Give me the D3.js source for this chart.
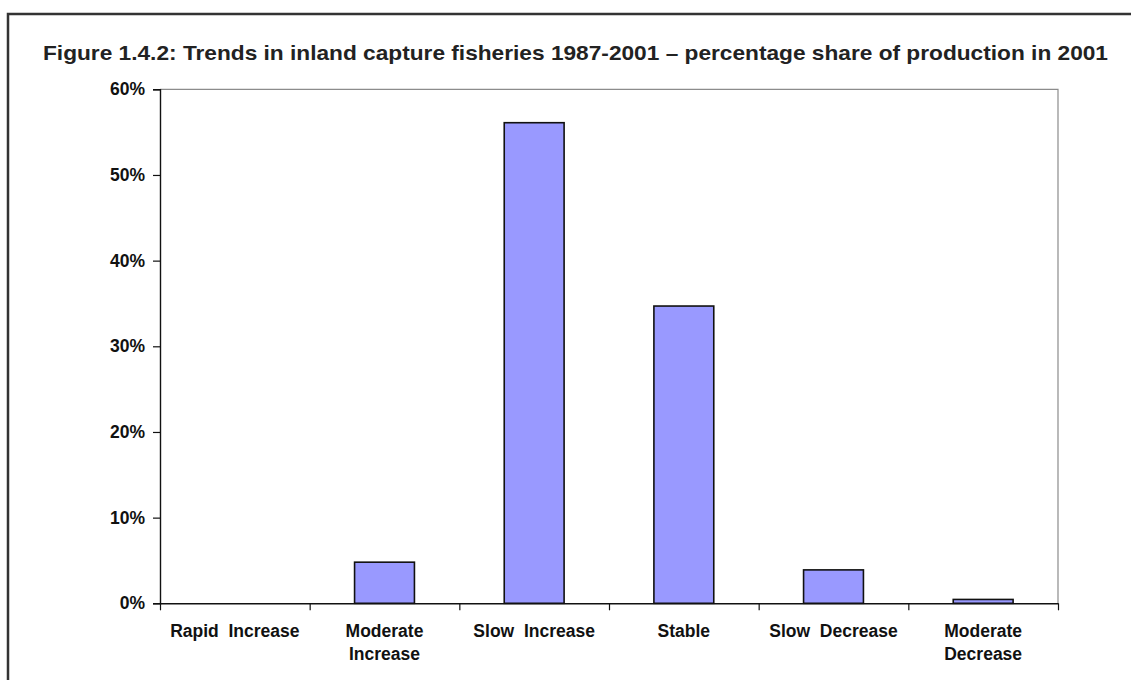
<!DOCTYPE html>
<html>
<head>
<meta charset="utf-8">
<script src="https://cdn.jsdelivr.net/npm/d3@7"></script>
<style>
  html, body { margin: 0; padding: 0; background: #fff; }
  svg { display: block; font-family: "Liberation Sans", Arial, Helvetica, sans-serif; }
</style>
</head>
<body>
<svg id="chart" width="1131" height="680"></svg>
<script>
// Share of 2001 inland capture production by 1987-2001 trend class (%)
const categories = [
  ["Rapid  Increase"],
  ["Moderate", "Increase"],
  ["Slow  Increase"],
  ["Stable"],
  ["Slow  Decrease"],
  ["Moderate", "Decrease"]
];
const shares = [0, 4.8, 56.1, 34.7, 3.9, 0.45];
const yTicks = [0, 10, 20, 30, 40, 50, 60];
const titleText = "Figure 1.4.2: Trends in inland capture fisheries 1987-2001 \u2013 percentage share of production in 2001";

const svg = d3.select("#chart");

// outer frame
svg.append("path")
  .attr("d", "M8,690 L8,14 L1140,14")
  .attr("fill", "none")
  .attr("stroke", "#333")
  .attr("stroke-width", 2.5);

svg.append("text")
  .attr("x", 43)
  .attr("y", 59.5)
  .attr("font-size", 20.5)
  .attr("font-weight", "bold")
  .attr("fill", "#222")
  .attr("textLength", 1065)
  .attr("lengthAdjust", "spacingAndGlyphs")
  .text(titleText);

const plot = { left: 160, right: 1058, top: 89.3, bottom: 603.3 };

const x = d3.scaleBand()
  .domain(d3.range(categories.length))
  .range([plot.left, plot.right])
  .paddingInner(0.6)
  .paddingOuter(0.3);

const y = d3.scaleLinear()
  .domain([0, 60])
  .range([plot.bottom, plot.top]);

// plot area frame (top and right)
svg.append("path")
  .attr("d", `M${plot.left},${plot.top} L${plot.right},${plot.top} L${plot.right},${plot.bottom}`)
  .attr("fill", "none")
  .attr("stroke", "#8c8c8c")
  .attr("stroke-width", 1.2);

// bars
svg.append("g")
  .selectAll("rect")
  .data(shares)
  .join("rect")
  .attr("x", (d, i) => x(i))
  .attr("width", x.bandwidth())
  .attr("y", d => y(d))
  .attr("height", d => plot.bottom - y(d))
  .attr("fill", "#9999ff")
  .attr("stroke", "#111")
  .attr("stroke-width", d => d > 0 ? 1.6 : 0);

// y axis
const yAxis = d3.axisLeft(y)
  .tickValues(yTicks)
  .tickFormat(d => d + "%")
  .tickSize(7)
  .tickPadding(8);

const gy = svg.append("g")
  .attr("transform", `translate(${plot.left},0)`)
  .call(yAxis);
gy.select(".domain").attr("stroke", "#111").attr("stroke-width", 1.4);
gy.selectAll(".tick line").attr("stroke", "#111").attr("stroke-width", 1.2);
gy.selectAll(".tick text")
  .attr("font-size", 17.5)
  .attr("font-weight", "bold")
  .attr("fill", "#111")
  .attr("font-family", "'Liberation Sans', Arial, sans-serif");

// x axis: category separators drawn as ticks at band edges
const xEdge = d3.scaleLinear()
  .domain([0, categories.length])
  .range([plot.left, plot.right]);

const gx = svg.append("g")
  .attr("transform", `translate(0,${plot.bottom})`)
  .call(d3.axisBottom(xEdge).ticks(categories.length).tickFormat("").tickSize(7).tickSizeOuter(0));
gx.select(".domain").attr("stroke", "#111").attr("stroke-width", 1.6);
gx.selectAll(".tick line").attr("stroke", "#111").attr("stroke-width", 1.2);

// category labels
const labels = svg.append("g")
  .selectAll("text")
  .data(categories)
  .join("text")
  .attr("x", (d, i) => x(i) + x.bandwidth() / 2)
  .attr("y", 637)
  .attr("text-anchor", "middle")
  .attr("font-size", 17.5)
  .attr("font-weight", "bold")
  .attr("fill", "#111")
  .style("white-space", "pre");

labels.selectAll("tspan")
  .data(d => d)
  .join("tspan")
  .attr("x", function () { return d3.select(this.parentNode).attr("x"); })
  .attr("dy", (d, i) => i === 0 ? 0 : 23)
  .text(d => d);
</script>
</body>
</html>
